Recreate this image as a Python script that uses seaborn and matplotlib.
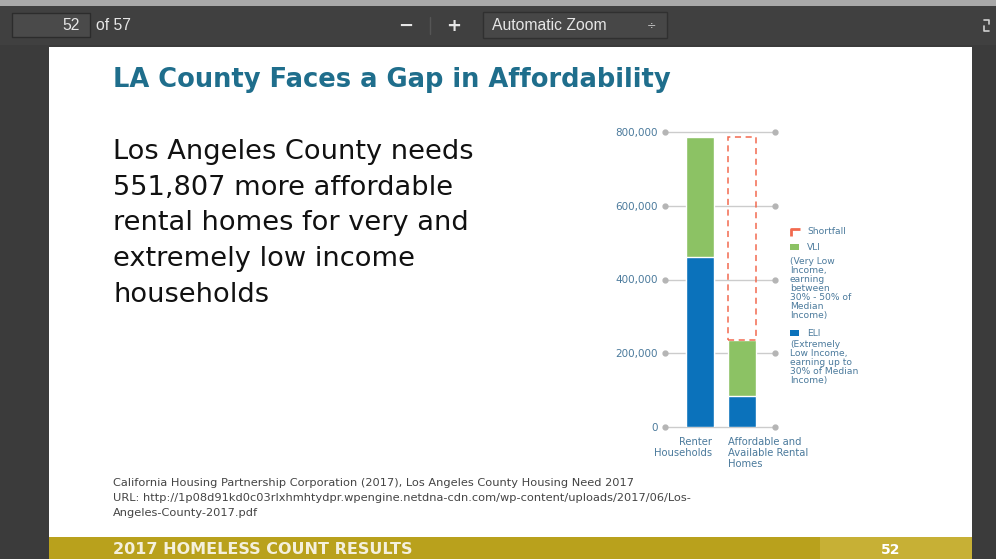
import numpy as np
import pandas as pd
import matplotlib
matplotlib.use('Agg')
import matplotlib.pyplot as plt
import seaborn as sns
from matplotlib.patches import Rectangle

# chart data
categories = ['Renter\nHouseholds', 'Affordable and\nAvailable Rental\nHomes']
eli = [460000, 83000]
vli = [327000, 152000]
shortfall = 551807
yticks = [0, 200000, 400000, 600000, 800000]

body_lines = ['Los Angeles County needs', '551,807 more affordable',
              'rental homes for very and', 'extremely low income', 'households']
citation = ['California Housing Partnership Corporation (2017), Los Angeles County Housing Need 2017',
            'URL: http://1p08d91kd0c03rlxhmhtydpr.wpengine.netdna-cdn.com/wp-content/uploads/2017/06/Los-',
            'Angeles-County-2017.pdf']

BLUE = '#0b72bb'
GREEN = '#8cc264'
ORANGE = '#f26a4f'
TXT = '#4b7a9c'

sns.set_style('white')
plt.rcParams['font.family'] = ['DejaVu Sans']

W, H = 996, 559
fig = plt.figure(figsize=(W / 100, H / 100), dpi=100)

# background / viewer chrome in pixel coordinates
bg = fig.add_axes([0, 0, 1, 1])
bg.set_xlim(0, W)
bg.set_ylim(H, 0)
bg.axis('off')
bg.add_patch(Rectangle((0, 0), W, H, fc='#3b3b3b', ec='none'))
bg.add_patch(Rectangle((0, 0), W, 6, fc='#a9a9a9', ec='none'))
bg.add_patch(Rectangle((0, 6), W, 39, fc='#404040', ec='none'))
bg.add_patch(Rectangle((12, 13), 78, 24, fc='#4a4a4a', ec='#2c2c2c', lw=1))
bg.add_patch(Rectangle((483, 12), 184, 26, fc='#474747', ec='#303030', lw=1))
bg.plot([430, 430], [17, 34], color='#555555', lw=1)
tb = dict(color='#e6e6e6', fontsize=11.3, va='center', family=['Liberation Sans Narrow', 'Liberation Sans'])
bg.text(80, 25, '52', ha='right', **tb)
bg.text(96, 25, 'of 57', ha='left', **tb)
bg.text(406, 26, '−', ha='center', color='#e6e6e6', fontsize=13, va='center', weight='bold')
bg.text(454, 26, '+', ha='center', color='#e6e6e6', fontsize=13, va='center', weight='bold')
bg.text(492, 25, 'Automatic Zoom', ha='left', **tb)
bg.text(652, 25, '÷', ha='center', color='#d0d0d0', fontsize=8, va='center')
# full-screen icon drawn as two small corner arrows
bg.plot([984, 989, 989], [20, 20, 24], color='#d0d0d0', lw=1.2)
bg.plot([984, 984, 989], [26, 31, 31], color='#d0d0d0', lw=1.2)

# slide
bg.add_patch(Rectangle((49, 47), 923, 490, fc='white', ec='none'))
bg.add_patch(Rectangle((49, 537), 771, 22, fc='#b9a11c', ec='none'))
bg.add_patch(Rectangle((820, 537), 152, 22, fc='#c7b035', ec='none'))
bg.text(113, 550, '2017 HOMELESS COUNT RESULTS', color='#f4f0dc', fontsize=11.5, weight='bold',
        va='center', ha='left')
bg.text(891, 550, '52', color='white', fontsize=10, weight='bold', va='center', ha='center')

bg.text(113, 80, 'LA County Faces a Gap in Affordability', color='#1f6e8c', fontsize=18.5,
        weight='bold', va='center', ha='left')
for i, line in enumerate(body_lines):
    bg.text(113, 152 + i * 35.7, line, color='#111111', fontsize=19.6, va='center', ha='left')
for i, line in enumerate(citation):
    bg.text(113, 483 + i * 15, line, color='#444444', fontsize=8.2, va='center', ha='left')

# legend (manual, to the right of the chart)
bg.plot([791, 791, 800], [236, 229, 229], color=ORANGE, lw=2, solid_capstyle='butt')
bg.add_patch(Rectangle((790, 244), 9, 6, fc=GREEN, ec='none'))
bg.add_patch(Rectangle((790, 330), 9, 6, fc=BLUE, ec='none'))
lg = dict(color=TXT, fontsize=6.6, ha='left')
bg.text(807, 232, 'Shortfall', va='center', **lg)
bg.text(807, 248, 'VLI', va='center', **lg)
bg.text(790, 257, '(Very Low\nIncome,\nearning\nbetween\n30% - 50% of\nMedian\nIncome)', va='top',
        linespacing=1.0, **lg)
bg.text(807, 334, 'ELI', va='center', **lg)
bg.text(790, 340, '(Extremely\nLow Income,\nearning up to\n30% of Median\nIncome)', va='top',
        linespacing=1.0, **lg)

# chart
ax = fig.add_axes([665 / W, 1 - 427 / H, 110 / W, 295 / H])
df = pd.DataFrame({'group': categories, 'eli': eli, 'vli': vli})
df['total'] = df['eli'] + df['vli']
bw = 0.667
sns.barplot(data=df, x='group', y='total', color=GREEN, saturation=1, width=bw, ax=ax, zorder=3)
sns.barplot(data=df, x='group', y='eli', color=BLUE, saturation=1, width=bw, ax=ax, zorder=4)
ax.bar(1, shortfall, bottom=df['total'][1], width=bw * 0.97, fill=False, edgecolor=ORANGE,
       linestyle=(0, (4, 3)), linewidth=1.1, zorder=5)

xl = (-0.833, 1.786)
for v in yticks:
    ax.plot(xl, [v, v], color='#cccccc', lw=1, zorder=1, clip_on=False)
    ax.plot(xl, [v, v], ls='none', marker='o', ms=3.5, color='#b5b5b5', zorder=2, clip_on=False)
ax.set_xlim(*xl)
ax.set_ylim(0, 800000)
ax.set_yticks(yticks)
ax.set_yticklabels([f'{v:,}' for v in yticks])
ax.tick_params(axis='y', length=0, pad=5, labelsize=7.5, labelcolor=TXT)
ax.set_xticks([])
ax.set_xlabel('')
ax.set_ylabel('')
for s in ax.spines.values():
    s.set_visible(False)
ax.patch.set_alpha(0)

tr = ax.get_xaxis_transform()
ax.text(0 + bw / 2 - 0.05, -0.035, categories[0], transform=tr, ha='right', va='top',
        multialignment='right', color=TXT, fontsize=7.2, linespacing=1.1)
ax.text(1 - bw / 2, -0.035, categories[1], transform=tr, ha='left', va='top',
        multialignment='left', color=TXT, fontsize=7.2, linespacing=1.1)

fig.savefig('out.png', dpi=100)
